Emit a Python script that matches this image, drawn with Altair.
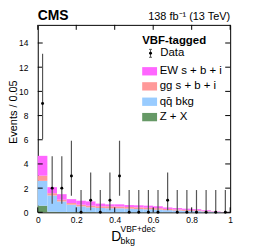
import altair as alt
import pandas as pd

# ---- data ----
bin_lo = [0.00, 0.05, 0.10, 0.15, 0.20, 0.25, 0.30, 0.35, 0.40, 0.45,
          0.50, 0.55, 0.60, 0.65, 0.70, 0.75, 0.80, 0.85, 0.90, 0.95]
bin_hi = [0.05, 0.10, 0.15, 0.20, 0.25, 0.30, 0.35, 0.40, 0.45, 0.50,
          0.55, 0.60, 0.65, 0.70, 0.75, 0.80, 0.85, 0.90, 0.95, 1.00]
bin_center = [0.025, 0.075, 0.125, 0.175, 0.225, 0.275, 0.325, 0.375, 0.425, 0.475,
              0.525, 0.575, 0.625, 0.675, 0.725, 0.775, 0.825, 0.875, 0.925, 0.975]

zx = [0.55, 0.05, 0.03, 0.02, 0.02, 0.02, 0.01, 0.01, 0.01, 0.01,
      0.01, 0.01, 0.01, 0.01, 0.00, 0.00, 0.00, 0.00, 0.00, 0.00]
qq = [2.05, 1.34, 0.87, 0.61, 0.47, 0.39, 0.35, 0.32, 0.32, 0.29,
      0.26, 0.24, 0.21, 0.17, 0.15, 0.12, 0.10, 0.07, 0.04, 0.01]
gg = [0.43, 0.19, 0.14, 0.14, 0.14, 0.14, 0.14, 0.17, 0.15, 0.14,
      0.14, 0.13, 0.12, 0.10, 0.09, 0.08, 0.07, 0.04, 0.02, 0.01]
ew = [1.64, 0.50, 0.46, 0.32, 0.33, 0.35, 0.22, 0.16, 0.18, 0.16,
      0.17, 0.17, 0.16, 0.12, 0.11, 0.10, 0.09, 0.06, 0.03, 0.01]

counts = [9, 2, 2, 3, 0, 1, 0, 1, 3, 0, 0, 0, 0, 1, 0, 0, 0, 0, 0, 0]
err_low = [6.06, 0.71, 0.71, 1.37, 0.0, 0.17, 0.0, 0.17, 1.37, 0.0,
           0.0, 0.0, 0.0, 0.17, 0.0, 0.0, 0.0, 0.0, 0.0, 0.0]
err_high = [13.11, 4.64, 4.64, 5.92, 1.84, 3.30, 1.84, 3.30, 5.92, 1.84,
            1.84, 1.84, 1.84, 3.30, 1.84, 1.84, 1.84, 1.84, 1.84, 1.84]

comp_names = ["Z + X", "qq bkg", "gg s + b + i", "EW s + b + i"]
comp_colors = ["#669966", "#99ccff", "#ff9999", "#ff66ff"]

x_ticks = [0.0, 0.2, 0.4, 0.6, 0.8, 1.0]
y_ticks = [0, 2, 4, 6, 8, 10, 12, 14]

# ---- tables ----
rows = []
for i in range(len(bin_lo)):
    base = 0.0
    for name, vals in zip(comp_names, [zx, qq, gg, ew]):
        rows.append(dict(lo=bin_lo[i], hi=bin_hi[i], y0=base, y1=base + vals[i], comp=name))
        base += vals[i]
stack_df = pd.DataFrame(rows)
data_df = pd.DataFrame(dict(x=bin_center, n=counts, lo=err_low, hi=err_high))
xt_df = pd.DataFrame(dict(v=x_ticks))
yt_df = pd.DataFrame(dict(v=y_ticks))

W, H = 194, 189
FONT = "Liberation Sans"
ERR_COLOR = "#555555"
xs = alt.Scale(domain=[0, 1], nice=False, zero=False)
ys = alt.Scale(domain=[0, 15.5], nice=False)
xa = alt.Axis(values=x_ticks, format="~g", title=None, labelPadding=3, labelFontSize=8.5)
ya = alt.Axis(values=y_ticks, title=None, labelPadding=10, labelFontSize=8.5)

bars = alt.Chart(stack_df).mark_rect(strokeWidth=0).encode(
    x=alt.X("lo:Q", scale=xs, axis=xa),
    x2="hi:Q",
    y=alt.Y("y0:Q", scale=ys, axis=ya),
    y2="y1:Q",
    color=alt.Color("comp:N", scale=alt.Scale(domain=comp_names, range=comp_colors), legend=None),
)

tick_bot = alt.Chart(xt_df).mark_rule(color="black", strokeWidth=1).encode(
    x=alt.X("v:Q", scale=xs, axis=xa), y=alt.value(H), y2=alt.value(H - 5))
tick_top = alt.Chart(xt_df).mark_rule(color="black", strokeWidth=1).encode(
    x=alt.X("v:Q", scale=xs, axis=xa), y=alt.value(0), y2=alt.value(5))
tick_left = alt.Chart(yt_df).mark_rule(color="black", strokeWidth=1).encode(
    y=alt.Y("v:Q", scale=ys, axis=ya), x=alt.value(0), x2=alt.value(5))
tick_right = alt.Chart(yt_df).mark_rule(color="black", strokeWidth=1).encode(
    y=alt.Y("v:Q", scale=ys, axis=ya), x=alt.value(W), x2=alt.value(W - 5))

err = alt.Chart(data_df).mark_rule(color=ERR_COLOR, strokeWidth=1.2).encode(
    x=alt.X("x:Q", scale=xs, axis=xa),
    y=alt.Y("lo:Q", scale=ys, axis=ya), y2="hi:Q")
pts = alt.Chart(data_df).mark_point(filled=True, color="black", size=9, opacity=1).encode(
    x=alt.X("x:Q", scale=xs, axis=xa),
    y=alt.Y("n:Q", scale=ys, axis=ya))

one = pd.DataFrame(dict(a=[0]))


def txt(s, x, y, size, bold=False, align="left", angle=0, baseline="alphabetic"):
    return alt.Chart(one).mark_text(
        text=s, font=FONT, fontSize=size, fontWeight="bold" if bold else "normal",
        align=align, baseline=baseline, angle=angle, color="black"
    ).encode(x=alt.value(x), y=alt.value(y))


layers = [bars, tick_bot, tick_top, tick_left, tick_right, err, pts]

# headers
layers.append(txt("CMS", 0, -5, 14, bold=True))
layers.append(txt("138 fb\u207b\u00b9 (13 TeV)", W, -5, 11, align="right"))

# legend
lx = 105.3
layers.append(txt("VBF-tagged", lx, 19, 11.5, bold=True))
# Data entry
dmx, dmy = 113.7, 28.7
layers.append(alt.Chart(one).mark_rule(color=ERR_COLOR).encode(
    x=alt.value(dmx), x2=alt.value(dmx), y=alt.value(dmy - 4), y2=alt.value(dmy + 4)))
layers.append(alt.Chart(one).mark_rule(color=ERR_COLOR).encode(
    x=alt.value(dmx - 1.5), x2=alt.value(dmx + 1.5), y=alt.value(dmy - 4)))
layers.append(alt.Chart(one).mark_rule(color=ERR_COLOR).encode(
    x=alt.value(dmx - 1.5), x2=alt.value(dmx + 1.5), y=alt.value(dmy + 4)))
layers.append(alt.Chart(one).mark_point(filled=True, color="black", size=9, opacity=1).encode(
    x=alt.value(dmx), y=alt.value(dmy)))
layers.append(txt("Data", 123.5, dmy, 11.5, baseline="middle"))

leg_labels = ["EW s + b + i", "gg s + b + i", "q\u0071\u0304 bkg", "Z + X"]
leg_colors = ["#ff66ff", "#ff9999", "#99ccff", "#669966"]
leg_y = [46.8, 62.0, 77.5, 93.0]
for lab, col, yy in zip(leg_labels, leg_colors, leg_y):
    layers.append(alt.Chart(one).mark_rect(color=col).encode(
        x=alt.value(lx), x2=alt.value(lx + 15), y=alt.value(yy - 4.2), y2=alt.value(yy + 4.2)))
    layers.append(txt(lab, 123.0, yy, 11.5, baseline="middle"))

# axis titles
layers.append(txt("Events / 0.05", -24, 88, 11, align="center", angle=270, baseline="middle"))
layers.append(txt("D", 74, 218, 14))
layers.append(txt("VBF+dec", 83.5, 208.5, 8.5))
layers.append(txt("bkg", 83.5, 220.5, 9))

chart = alt.layer(*layers).properties(
    width=W, height=H,
    autosize=alt.AutoSizeParams(type="none"),
    padding={"left": 30, "top": 16, "right": 20, "bottom": 38},
).configure_view(stroke="black", strokeWidth=1).configure_axis(
    grid=False, ticks=False, domain=False, labelFont=FONT, labelColor="black",
    labelOverlap=False, labelFlush=False,
)

chart.save("out.html", embed_options={"renderer": "svg", "actions": False})
